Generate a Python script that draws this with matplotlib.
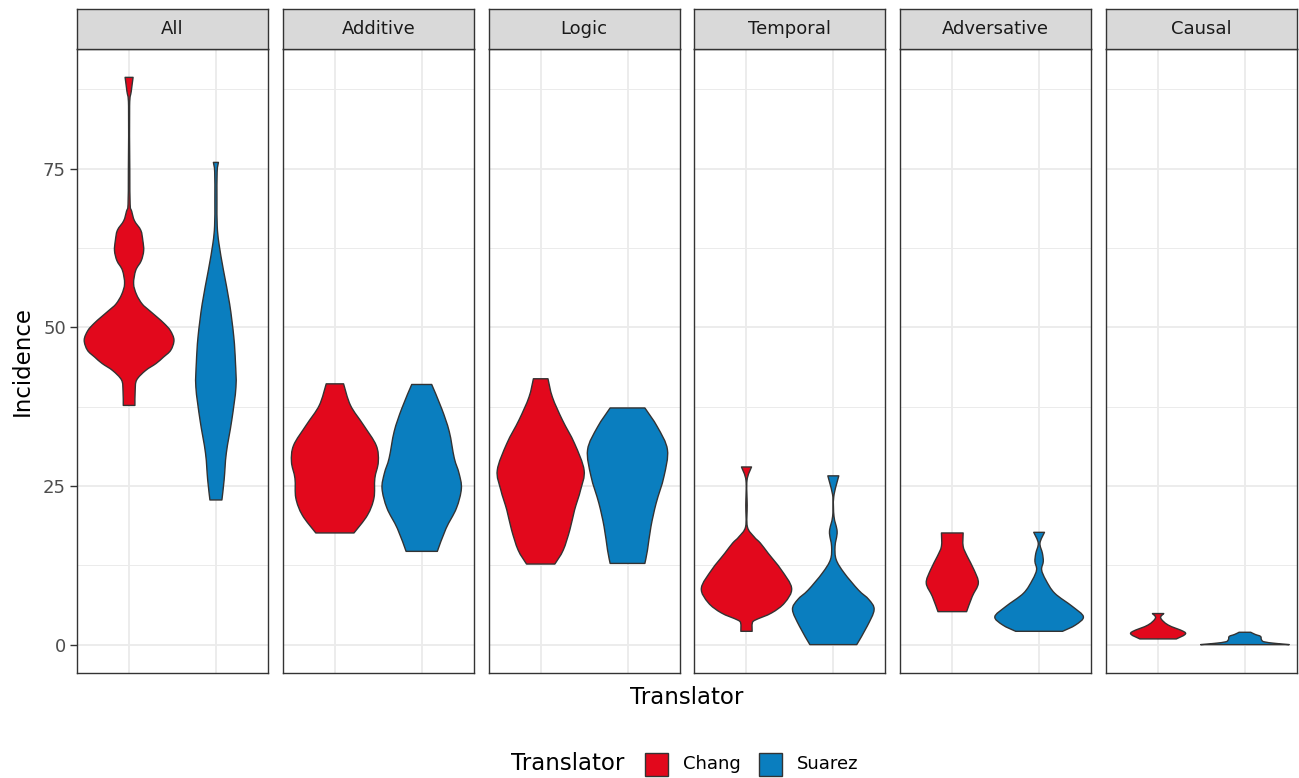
import numpy as np
import matplotlib
matplotlib.use("Agg")
import matplotlib.pyplot as plt
from matplotlib.path import Path
from matplotlib.patches import PathPatch, Rectangle

plt.rcParams['font.family'] = ['DejaVu Sans']

categories = ["All", "Additive", "Logic", "Temporal", "Adversative", "Causal"]
translators = ["Chang", "Suarez"]
colors = {"Chang": "#E2081C", "Suarez": "#0A7EBF"}

# violin outlines: incidence level and half width (in x units) at that level
all_chang_y = [37.7, 40.0, 41.7, 43.2, 44.3, 45.3, 46.4, 48.0, 49.5, 50.6, 51.6, 52.7, 53.7, 55.2,
               56.9, 59.0, 60.5, 62.1, 63.7, 65.3, 66.8, 68.3, 69.4, 75.0, 84.9, 87.2, 89.4]
all_chang_w = [0.067, 0.070, 0.087, 0.19, 0.31, 0.395, 0.48, 0.517, 0.475, 0.405, 0.324, 0.23, 0.15, 0.085,
               0.052, 0.077, 0.14, 0.168, 0.158, 0.135, 0.062, 0.03, 0.012, 0.008, 0.006, 0.025, 0.046]
all_suarez_y = [22.8, 26.0, 30.2, 35.4, 40.6, 44.5, 48.5, 53.7, 59.0, 63.2, 66.0, 70.0, 74.5, 76.0]
all_suarez_w = [0.069, 0.095, 0.12, 0.183, 0.231, 0.225, 0.206, 0.158, 0.087, 0.035, 0.015, 0.012, 0.014, 0.029]

additive_chang_y = [17.6, 20.4, 23.1, 26.2, 28.8, 31.4, 34.6, 37.7, 41.1]
additive_chang_w = [0.22, 0.375, 0.45, 0.46, 0.50, 0.476, 0.33, 0.18, 0.10]
additive_suarez_y = [14.7, 18.3, 21.5, 24.6, 27.0, 29.4, 33.6, 37.2, 41.0]
additive_suarez_w = [0.18, 0.28, 0.40, 0.457, 0.43, 0.375, 0.317, 0.23, 0.115]

logic_chang_y = [12.7, 14.9, 18.1, 21.2, 24.4, 27.5, 31.7, 35.4, 39.0, 41.9]
logic_chang_w = [0.163, 0.26, 0.336, 0.39, 0.46, 0.50, 0.39, 0.25, 0.135, 0.084]
logic_suarez_y = [12.8, 14.9, 18.6, 22.3, 26.5, 30.7, 34.3, 37.3]
logic_suarez_w = [0.20, 0.23, 0.27, 0.33, 0.42, 0.46, 0.345, 0.20]

temporal_chang_y = [2.1, 3.4, 3.9, 5.0, 6.6, 8.9, 11.8, 14.4, 16.0, 17.0, 18.6, 22.0, 25.9, 28.0]
temporal_chang_w = [0.065, 0.067, 0.105, 0.29, 0.44, 0.52, 0.40, 0.25, 0.16, 0.087, 0.01, 0.008, 0.006, 0.058]
temporal_suarez_y = [0.0, 2.9, 5.5, 7.1, 8.6, 11.3, 13.4, 15.5, 17.8, 20.2, 23.3, 26.6]
temporal_suarez_w = [0.27, 0.39, 0.47, 0.41, 0.29, 0.125, 0.033, 0.02, 0.044, 0.008, 0.005, 0.063]

adversative_chang_y = [5.2, 7.6, 9.7, 11.8, 13.9, 15.5, 17.6]
adversative_chang_w = [0.165, 0.23, 0.30, 0.25, 0.173, 0.125, 0.125]
adversative_suarez_y = [2.1, 3.1, 4.4, 6.0, 8.1, 10.2, 11.8, 13.1, 14.4, 16.0, 17.7]
adversative_suarez_w = [0.27, 0.42, 0.51, 0.385, 0.18, 0.077, 0.029, 0.048, 0.038, 0.01, 0.062]

causal_chang_y = [0.9, 1.6, 2.1, 3.1, 4.2, 4.9]
causal_chang_w = [0.21, 0.31, 0.29, 0.115, 0.03, 0.065]
causal_suarez_y = [0.0, 0.2, 0.45, 0.8, 1.3, 1.6, 1.95]
causal_suarez_w = [0.51, 0.35, 0.22, 0.19, 0.18, 0.12, 0.067]

violins = {
    "All": [(all_chang_y, all_chang_w), (all_suarez_y, all_suarez_w)],
    "Additive": [(additive_chang_y, additive_chang_w), (additive_suarez_y, additive_suarez_w)],
    "Logic": [(logic_chang_y, logic_chang_w), (logic_suarez_y, logic_suarez_w)],
    "Temporal": [(temporal_chang_y, temporal_chang_w), (temporal_suarez_y, temporal_suarez_w)],
    "Adversative": [(adversative_chang_y, adversative_chang_w), (adversative_suarez_y, adversative_suarez_w)],
    "Causal": [(causal_chang_y, causal_chang_w), (causal_suarez_y, causal_suarez_w)],
}

y_ticks = [0, 25, 50, 75]


def smooth_side(pts):
    # catmull-rom through the outline points, as cubic bezier pieces
    verts, codes = [], []
    n = len(pts)
    for i in range(n - 1):
        p0 = pts[max(i - 1, 0)]
        p1 = pts[i]
        p2 = pts[i + 1]
        p3 = pts[min(i + 2, n - 1)]
        verts += [p1 + (p2 - p0) / 6, p2 - (p3 - p1) / 6, p2]
        codes += [Path.CURVE4] * 3
    return verts, codes


def violin_patch(center, ys, ws, color):
    ys = np.asarray(ys, float)
    ws = np.asarray(ws, float)
    right = np.column_stack([center + ws, ys])
    left = np.column_stack([center - ws, ys])[::-1]
    rv, rc = smooth_side(right)
    lv, lc = smooth_side(left)
    verts = [right[0]] + rv + [left[0]] + lv + [right[0]]
    codes = [Path.MOVETO] + rc + [Path.LINETO] + lc + [Path.CLOSEPOLY]
    return PathPatch(Path(verts, codes), facecolor=color, edgecolor="#333333",
                     lw=1.0, zorder=3, joinstyle="round")


W, H = 1299, 778
fig = plt.figure(figsize=(W / 100, H / 100), dpi=100)

ymax = max(max(v[0][0]) if False else max(max(a[0]) for a in v) for v in violins.values())
ymin = 0.0
pad = 0.05 * (ymax - ymin)

left0, step, pw = 77, 205.8, 191
ptop, pbot, strip_h = 49, 673, 40

for i, cat in enumerate(categories):
    x0 = left0 + i * step
    ax = fig.add_axes([x0 / W, (H - pbot) / H, pw / W, (pbot - ptop) / H])
    ax.set_xlim(0.4, 2.6)
    ax.set_ylim(ymin - pad, ymax + pad)

    ax.set_yticks(y_ticks)
    ax.set_yticks([12.5, 37.5, 62.5, 87.5], minor=True)
    ax.set_xticks([1, 2])
    ax.grid(True, which="major", color="#EBEBEB", lw=1.3, zorder=0)
    ax.grid(True, which="minor", axis="y", color="#EBEBEB", lw=0.7, zorder=0)
    ax.set_axisbelow(True)
    ax.tick_params(axis="x", which="both", length=0, labelbottom=False)
    ax.tick_params(axis="y", which="minor", length=0)
    if i == 0:
        ax.tick_params(axis="y", which="major", length=5, width=1.0, color="#333333",
                       labelsize=13, labelcolor="#4D4D4D", pad=3)
    else:
        ax.tick_params(axis="y", which="major", length=0, labelleft=False)
    for sp in ax.spines.values():
        sp.set_color("#333333")
        sp.set_linewidth(1.0)
        sp.set_zorder(5)

    for j, (ys, ws) in enumerate(violins[cat]):
        ax.add_patch(violin_patch(j + 1, ys, ws, colors[translators[j]]))

    # facet strip
    sax = fig.add_axes([x0 / W, (H - ptop) / H, pw / W, strip_h / H])
    sax.set_facecolor("#D9D9D9")
    sax.set_xticks([])
    sax.set_yticks([])
    for sp in sax.spines.values():
        sp.set_color("#333333")
        sp.set_linewidth(1.0)
    sax.text(0.5, 0.5, cat, ha="center", va="center", fontsize=13, color="#1A1A1A",
             transform=sax.transAxes)

fig.text(22 / W, 1 - 361 / H, "Incidence", rotation=90, ha="center", va="center", fontsize=16.5)
fig.text(687 / W, 1 - 697 / H, "Translator", ha="center", va="center", fontsize=16.5)

# legend along the bottom
ly = 764
fig.text(511 / W, 1 - ly / H, "Translator", ha="left", va="center", fontsize=16.5)
key_x = [645, 759]
for name, kx in zip(translators, key_x):
    fig.add_artist(Rectangle((kx / W, 1 - (ly + 12) / H), 23 / W, 23 / H,
                             transform=fig.transFigure, facecolor=colors[name],
                             edgecolor="#333333", lw=1.0))
    fig.text((kx + 38) / W, 1 - ly / H, name, ha="left", va="center", fontsize=13)

fig.savefig("out.png", dpi=100, facecolor="white")
